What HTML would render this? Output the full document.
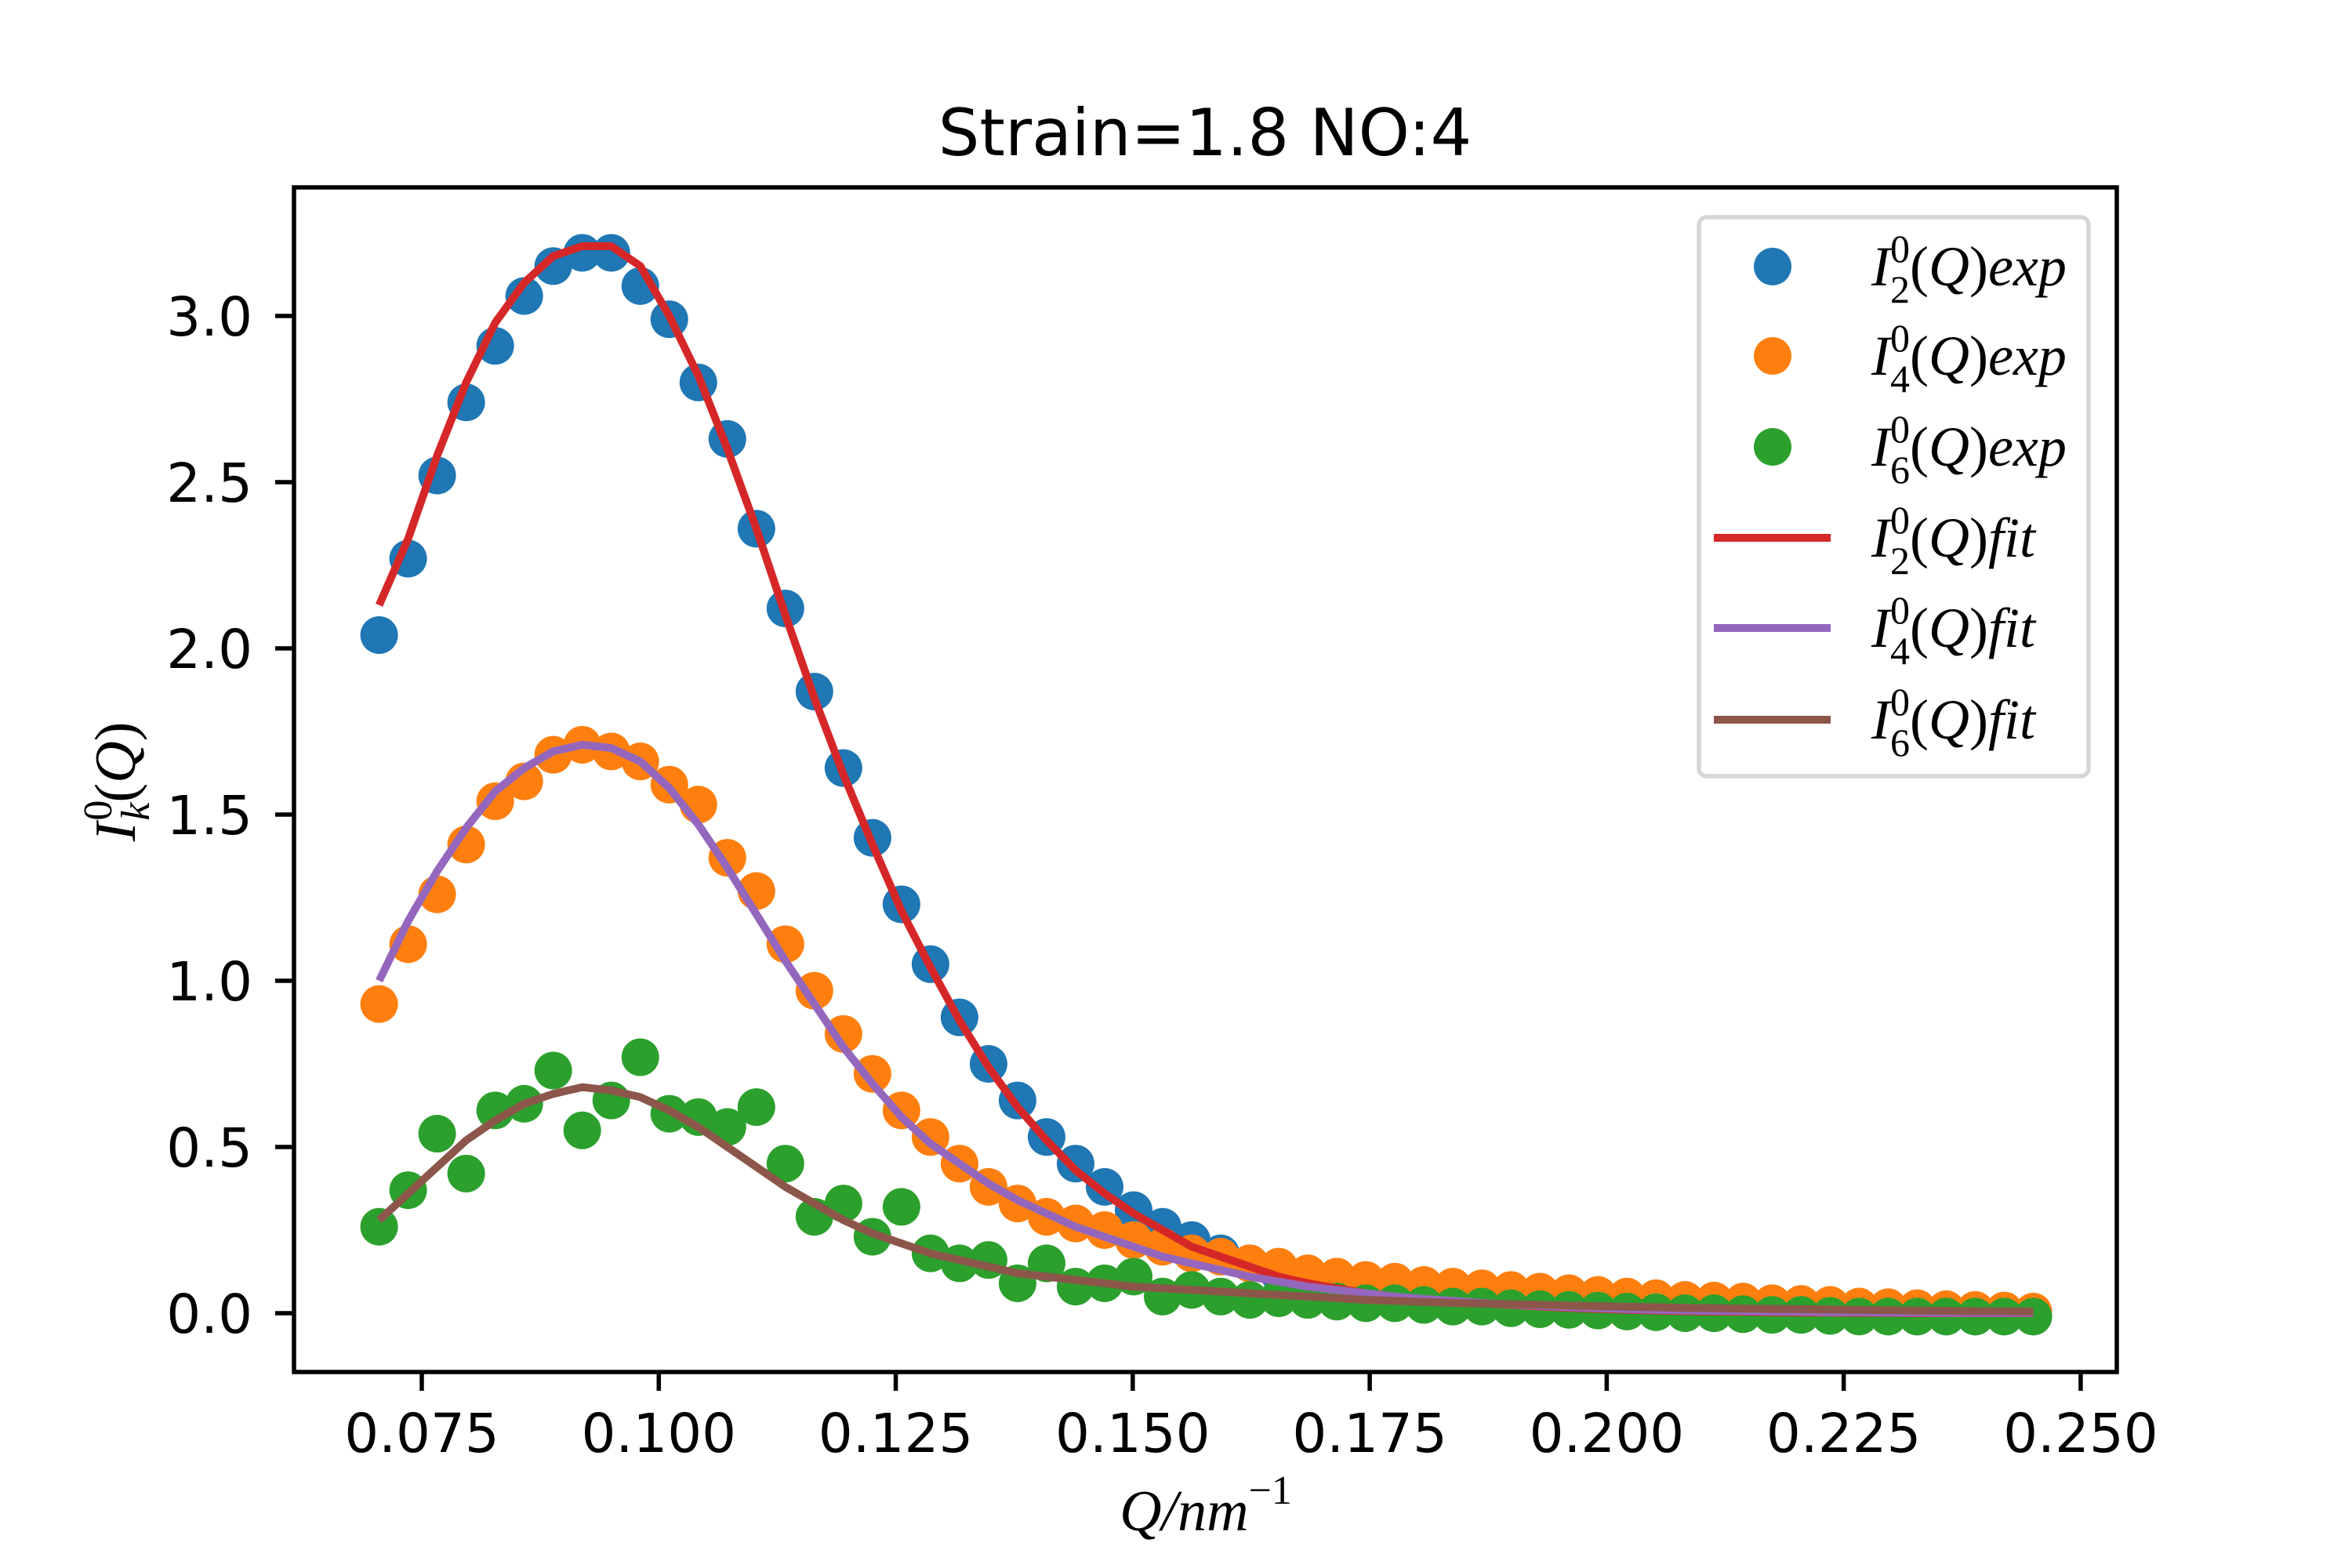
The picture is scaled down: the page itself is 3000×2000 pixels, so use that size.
<!DOCTYPE html>
<html><head><meta charset="utf-8"><style>html,body{margin:0;padding:0;background:#fff}svg{display:block}</style></head>
<body>
<svg id="chart" width="3000" height="2000" xmlns="http://www.w3.org/2000/svg">
<rect width="3000" height="2000" fill="#fff"/>
<g id="plot"></g>
</svg>
<script>
const xStart = 0.0705, xEnd = 0.245, nPts = 58;
const blueExp = [2.04,2.27,2.52,2.74,2.91,3.06,3.15,3.19,3.19,3.09,2.99,2.80,2.63,2.36,2.12,1.87,1.64,1.43,1.23,1.05,0.89,0.75,0.64,0.53,0.45,0.38,0.31,0.26,0.22,0.18,0.15,0.12,0.10,0.08,0.06,0.05,0.04,0.035,0.03,0.025,0.02,0.015,0.012,0.01,0.005,0.003,0.0,0.0,-0.003,-0.005,-0.005,-0.008,-0.01,-0.01,-0.01,-0.01,-0.01,-0.01];
const orangeExp = [0.93,1.11,1.26,1.41,1.54,1.60,1.68,1.71,1.69,1.66,1.59,1.53,1.37,1.27,1.11,0.97,0.84,0.72,0.61,0.53,0.45,0.38,0.33,0.29,0.27,0.25,0.22,0.20,0.18,0.17,0.15,0.14,0.12,0.11,0.10,0.095,0.085,0.08,0.075,0.07,0.065,0.06,0.055,0.05,0.045,0.04,0.038,0.035,0.03,0.028,0.025,0.02,0.018,0.015,0.012,0.01,0.008,0.005];
const greenExp = [0.26,0.37,0.54,0.42,0.61,0.63,0.73,0.55,0.64,0.77,0.60,0.59,0.56,0.62,0.45,0.29,0.33,0.23,0.32,0.18,0.15,0.16,0.09,0.15,0.08,0.09,0.11,0.05,0.07,0.05,0.04,0.045,0.04,0.035,0.03,0.03,0.025,0.02,0.02,0.015,0.012,0.01,0.008,0.005,0.003,0.0,0.0,-0.003,-0.005,-0.005,-0.008,-0.01,-0.01,-0.01,-0.01,-0.01,-0.01,-0.01];
const redFit = [2.13,2.33,2.58,2.80,2.98,3.10,3.18,3.21,3.21,3.15,3.0,2.82,2.6,2.36,2.1,1.85,1.62,1.41,1.21,1.04,0.88,0.74,0.62,0.52,0.43,0.36,0.30,0.25,0.20,0.17,0.14,0.11,0.09,0.075,0.06,0.05,0.04,0.035,0.03,0.025,0.02,0.016,0.013,0.01,0.008,0.006,0.005,0.004,0.003,0.002,0.002,0.001,0.001,0,0,0,0,0];
const purpleFit = [1.00,1.18,1.33,1.46,1.57,1.64,1.69,1.71,1.70,1.66,1.58,1.47,1.34,1.20,1.06,0.93,0.80,0.69,0.59,0.51,0.45,0.39,0.34,0.30,0.26,0.23,0.20,0.17,0.15,0.13,0.11,0.095,0.08,0.07,0.06,0.05,0.043,0.037,0.031,0.026,0.022,0.018,0.015,0.012,0.01,0.008,0.007,0.006,0.005,0.004,0.003,0.003,0.002,0.002,0.001,0.001,0.001,0.001];
const brownFit = [0.28,0.36,0.44,0.52,0.58,0.63,0.66,0.68,0.67,0.65,0.61,0.56,0.50,0.44,0.38,0.33,0.28,0.24,0.21,0.18,0.16,0.14,0.12,0.11,0.10,0.09,0.08,0.075,0.07,0.065,0.06,0.055,0.05,0.045,0.04,0.037,0.034,0.031,0.029,0.027,0.025,0.023,0.021,0.019,0.018,0.016,0.015,0.014,0.013,0.012,0.011,0.01,0.009,0.008,0.007,0.006,0.006,0.005];
const xTicks = [0.075,0.100,0.125,0.150,0.175,0.200,0.225,0.250];
const xTickLabels = ["0.075","0.100","0.125","0.150","0.175","0.200","0.225","0.250"];
const yTicks = [0,0.5,1,1.5,2,2.5,3];
const yTickLabels = ["0.0","0.5","1.0","1.5","2.0","2.5","3.0"];

const NS = "http://www.w3.org/2000/svg";
const L = 375, R = 2700, T = 239, B = 1750;
function X(v){ return 538 + (v - 0.075) * 12091; }
function Y(v){ return 1675 - v * 424; }
const g = document.getElementById('plot');
function el(tag, attrs, parent){ const e = document.createElementNS(NS, tag); for (const k in attrs) e.setAttribute(k, attrs[k]); (parent||g).appendChild(e); return e; }
const xs = []; for (let i = 0; i < nPts; i++) xs.push(xStart + i * (xEnd - xStart) / (nPts - 1));

const clip = el('clipPath', {id:'clip'}); el('rect', {x:L, y:T, width:R-L, height:B-T}, clip);
const dataG = el('g', {'clip-path':'url(#clip)'});



function scatter(vals, color, name){
  const sg = el('g', {fill:color}, dataG);
  
  
  vals.forEach((v, i) => {
    const c = el('circle', {cx:X(xs[i]), cy:Y(v), r:24}, sg);
    
    
  });
}
function line(vals, color, name){
  const p = el('polyline', {points: vals.map((v,i)=>X(xs[i]).toFixed(1)+','+Y(v).toFixed(1)).join(' '), fill:'none', stroke:color, 'stroke-width':10, 'stroke-linejoin':'round', 'stroke-linecap':'butt'}, dataG);
  
  
}
scatter(blueExp, '#1f77b4', 'i2-exp-series');
scatter(orangeExp, '#ff7f0e', 'i4-exp-series');
scatter(greenExp, '#2ca02c', 'i6-exp-series');
line(redFit, '#d62728', 'i2-fit-line');
line(purpleFit, '#9467bd', 'i4-fit-line');
line(brownFit, '#8c564b', 'i6-fit-line');

const frame = el('rect', {x:L, y:T, width:R-L, height:B-T, fill:'none', stroke:'#000', 'stroke-width':5.5});



const font = '"DejaVu Sans","Liberation Sans",sans-serif';
xTicks.forEach((v, i) => {
  const t = el('line', {x1:X(v), x2:X(v), y1:B, y2:B+24, stroke:'#000', 'stroke-width':5.5});
  
  
  const lb = el('text', {x:X(v), y:1852, 'font-size':69, 'font-family':font, 'text-anchor':'middle', fill:'#000'});
  lb.textContent = xTickLabels[i];
  
  
});
yTicks.forEach((v, i) => {
  const t = el('line', {x1:L-24, x2:L, y1:Y(v), y2:Y(v), stroke:'#000', 'stroke-width':5.5});
  
  
  const lb = el('text', {x:322, y:Y(v)+25, 'font-size':69, 'font-family':font, 'text-anchor':'end', fill:'#000'});
  lb.textContent = yTickLabels[i];
  
  
});
</script>
<svg style="position:absolute;left:0;top:0" width="3000" height="2000" xmlns="http://www.w3.org/2000/svg">
<text x="1537" y="198" font-size="83" font-family="'DejaVu Sans','Liberation Sans',sans-serif" text-anchor="middle">Strain=1.8 NO:4</text>
<text x="1538" y="1952" font-size="74" font-family="'Liberation Serif',serif" font-style="italic" text-anchor="middle">Q/nm<tspan font-size="52" font-style="normal" dy="-34">−1</tspan></text>
<text transform="translate(172,997) rotate(-90)" font-size="74" font-family="'Liberation Serif',serif" font-style="italic" text-anchor="middle">I<tspan font-size="52" font-style="normal" dy="-30" dx="2">0</tspan><tspan font-size="52" dy="48" dx="-26">k</tspan><tspan dy="-18" font-style="normal">(</tspan>Q<tspan font-style="normal">)</tspan></text>
<g>
<rect x="2167" y="277" width="497" height="713" rx="10" fill="#fff" fill-opacity="0.8" stroke="#d6d6d6" stroke-width="5.5"/>
<g font-family="'Liberation Serif',serif" font-size="72" font-style="italic">
<g><circle cx="2261" cy="340" r="24" fill="#1f77b4"/><text x="2387" y="364">I<tspan font-size="50" font-style="normal" dy="-30">0</tspan><tspan font-size="50" font-style="normal" dx="-25" dy="52">2</tspan><tspan dy="-22" font-style="normal">(</tspan>Q<tspan font-style="normal">)</tspan>exp</text></g>
<g><circle cx="2261" cy="454" r="24" fill="#ff7f0e"/><text x="2387" y="478">I<tspan font-size="50" font-style="normal" dy="-30">0</tspan><tspan font-size="50" font-style="normal" dx="-25" dy="52">4</tspan><tspan dy="-22" font-style="normal">(</tspan>Q<tspan font-style="normal">)</tspan>exp</text></g>
<g><circle cx="2261" cy="570" r="24" fill="#2ca02c"/><text x="2387" y="594">I<tspan font-size="50" font-style="normal" dy="-30">0</tspan><tspan font-size="50" font-style="normal" dx="-25" dy="52">6</tspan><tspan dy="-22" font-style="normal">(</tspan>Q<tspan font-style="normal">)</tspan>exp</text></g>
<g><line x1="2186" x2="2335" y1="686" y2="686" stroke="#d62728" stroke-width="10"/><text x="2387" y="710">I<tspan font-size="50" font-style="normal" dy="-30">0</tspan><tspan font-size="50" font-style="normal" dx="-25" dy="52">2</tspan><tspan dy="-22" font-style="normal">(</tspan>Q<tspan font-style="normal">)</tspan>fit</text></g>
<g><line x1="2186" x2="2335" y1="801" y2="801" stroke="#9467bd" stroke-width="10"/><text x="2387" y="825">I<tspan font-size="50" font-style="normal" dy="-30">0</tspan><tspan font-size="50" font-style="normal" dx="-25" dy="52">4</tspan><tspan dy="-22" font-style="normal">(</tspan>Q<tspan font-style="normal">)</tspan>fit</text></g>
<g><line x1="2186" x2="2335" y1="918" y2="918" stroke="#8c564b" stroke-width="10"/><text x="2387" y="942">I<tspan font-size="50" font-style="normal" dy="-30">0</tspan><tspan font-size="50" font-style="normal" dx="-25" dy="52">6</tspan><tspan dy="-22" font-style="normal">(</tspan>Q<tspan font-style="normal">)</tspan>fit</text></g>
</g>
</g>
</svg>
</body></html>
